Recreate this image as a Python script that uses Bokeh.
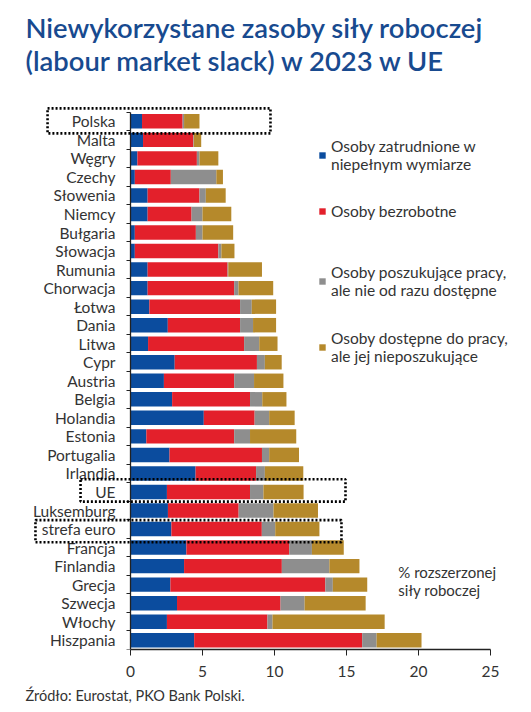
from bokeh.plotting import figure
from bokeh.models import (ColumnDataSource, Range1d, FixedTicker, Legend, LegendItem,
                          BoxAnnotation, Label, Title)
from bokeh.embed import file_html
from bokeh.resources import INLINE

# ---------------- data ----------------
countries = ["Polska", "Malta", "Węgry", "Czechy", "Słowenia", "Niemcy", "Bułgaria",
             "Słowacja", "Rumunia", "Chorwacja", "Łotwa", "Dania", "Litwa", "Cypr",
             "Austria", "Belgia", "Holandia", "Estonia", "Portugalia", "Irlandia", "UE",
             "Luksemburg", "strefa euro", "Francja", "Finlandia", "Grecja", "Szwecja",
             "Włochy", "Hiszpania"]
underemployed = [0.80, 0.87, 0.48, 0.30, 1.19, 1.19, 0.30, 0.30, 1.19, 1.19, 1.31, 2.59,
                 1.22, 3.07, 2.32, 2.89, 5.09, 1.10, 2.71, 4.52, 2.53, 2.60, 2.84, 3.88,
                 3.72, 2.77, 3.23, 2.53, 4.42]
unemployed = [2.82, 3.49, 4.13, 2.50, 3.60, 3.05, 4.24, 5.80, 5.55, 6.01, 6.30, 5.02,
              6.67, 5.71, 4.88, 5.41, 3.53, 6.10, 6.42, 4.20, 5.77, 4.91, 6.28, 7.14,
              6.79, 10.76, 7.19, 6.98, 11.67]
seeking_not_available = [0.10, 0.04, 0.18, 3.16, 0.44, 0.76, 0.46, 0.21, 0.05, 0.30, 0.81,
                         0.90, 1.05, 0.55, 1.38, 0.85, 1.01, 1.10, 0.50, 0.61, 0.93, 2.42,
                         0.93, 1.58, 3.30, 0.52, 1.67, 0.35, 1.00]
available_not_seeking = [1.07, 0.51, 1.31, 0.46, 1.38, 2.00, 2.13, 0.91, 2.34, 2.41, 1.69,
                         1.60, 1.27, 1.17, 2.04, 1.68, 1.77, 3.21, 2.07, 2.67, 2.79, 3.09,
                         3.07, 2.21, 2.09, 2.39, 4.24, 7.79, 3.12]
x_ticks = [0, 5, 10, 15, 20, 25]
series_labels = ["Osoby zatrudnione w\nniepełnym wymiarze",
                 "Osoby bezrobotne",
                 "Osoby poszukujące pracy,\nale nie od razu dostępne",
                 "Osoby dostępne do pracy,\nale jej nieposzukujące"]
highlighted = ["Polska", "UE", "strefa euro"]
title_lines = ["Niewykorzystane zasoby siły roboczej",
               "(labour market slack) w 2023 w UE"]
unit_text = "% rozszerzonej\nsiły roboczej"
source_text = "Źródło: Eurostat, PKO Bank Polski."

# ---------------- style / layout ----------------
FONT = "Lato"
TITLE_FONT = "Lato Semibold, Lato"
TEXT = "#333333"
colors = ["#0B4C9E", "#E3202B", "#8E8E8E", "#B5892B"]
X_MIN, X_MAX = -9.028, 27.778          # frame spans the whole width; axis 0..25
TOP_PAD = 0.3                           # extra room above first row for its box
# x extents (data units) and vertical offsets of the dotted highlight boxes
box_geom = {"Polska": (-5.76, 9.72, -0.70, 0.65),
            "UE": (-3.47, 14.93, -0.69, 0.52),
            "strefa euro": (-6.60, 14.65, -0.48, 0.71)}
legend_pos = [(318, 476), (318, 429), (318, 350), (318, 284)]

n = len(countries)
source = ColumnDataSource(dict(
    y=list(range(n)), label=countries,
    s0=underemployed, s1=unemployed, s2=seeking_not_available, s3=available_not_seeking))

p = figure(width=530, height=711, output_backend="svg", toolbar_location=None,
           title=None, x_range=Range1d(X_MIN, X_MAX),
           y_range=Range1d(n - 0.5, -0.5 - TOP_PAD),
           min_border_left=0, min_border_right=0, min_border_top=106,
           min_border_bottom=62)
p.outline_line_color = None
p.xgrid.visible = False
p.ygrid.visible = False
p.background_fill_color = "white"

renderers = p.hbar_stack(["s0", "s1", "s2", "s3"], y="y", height=0.78,
                         fill_color=colors, line_color=None, source=source)

# x axis
xa = p.xaxis[0]
xa.ticker = FixedTicker(ticks=x_ticks)
xa.bounds = (x_ticks[0], x_ticks[-1])
xa.major_tick_out = 6
xa.major_tick_in = 0
xa.minor_tick_out = 0
xa.axis_line_color = "#222222"
xa.major_tick_line_color = "#222222"
xa.axis_line_width = 1.3
xa.major_label_text_font = FONT
xa.major_label_text_font_size = "15.5px"
xa.major_label_text_color = TEXT
xa.major_label_standoff = 10

# y axis, drawn at x = 0 inside the frame
ya = p.yaxis[0]
ya.fixed_location = 0
ya.bounds = (-0.5, n - 0.5)
ya.ticker = FixedTicker(ticks=list(range(n)), minor_ticks=[i - 0.5 for i in range(n + 1)])
ya.major_label_overrides = {i: c for i, c in enumerate(countries)}
ya.major_tick_out = 0
ya.major_tick_in = 0
ya.minor_tick_out = 4
ya.minor_tick_in = 0
ya.axis_line_color = "#222222"
ya.minor_tick_line_color = "#222222"
ya.axis_line_width = 1.3
ya.major_label_text_font = FONT
ya.major_label_text_font_size = "15.5px"
ya.major_label_text_color = TEXT
ya.major_label_standoff = 11

# title: second line first (closest to the frame), then the first line
for line, so in ((title_lines[1], 60), (title_lines[0], -64)):
    p.add_layout(Title(text=line, align="left", offset=25, text_font=TITLE_FONT,
                       text_font_size="27.4px", text_font_style="normal",
                       text_color="#184A8F", text_line_height=1.0, standoff=so), "above")

p.add_layout(Title(text=source_text, align="left", offset=25, text_font=FONT,
                   text_font_size="14.5px", text_font_style="normal", text_color=TEXT,
                   standoff=11), "below")

# legends
for i, r in enumerate(renderers):
    leg = Legend(items=[LegendItem(label=series_labels[i], renderers=[r])],
                 location=legend_pos[i], glyph_width=8, glyph_height=8,
                 label_standoff=5, padding=0, margin=0, border_line_color=None,
                 background_fill_alpha=0, label_text_font=FONT,
                 label_text_font_size="15.5px", label_text_color=TEXT,
                 label_text_line_height=1.26)
    p.add_layout(leg)

# highlight boxes
for name in highlighted:
    idx = countries.index(name)
    l, r_, t, b = box_geom[name]
    p.add_layout(BoxAnnotation(left=l, right=r_, top=idx + t, bottom=idx + b,
                               fill_alpha=0, line_color="#000000", line_alpha=1.0,
                               line_width=2.6, line_dash="2 2", level="overlay"))

p.add_layout(Label(x=18.6, y=24.8, text=unit_text, text_font=FONT,
                   text_font_size="15px", text_color=TEXT, text_baseline="middle",
                   text_line_height=1.0))

open("out.html", "w").write(file_html(p, INLINE))
